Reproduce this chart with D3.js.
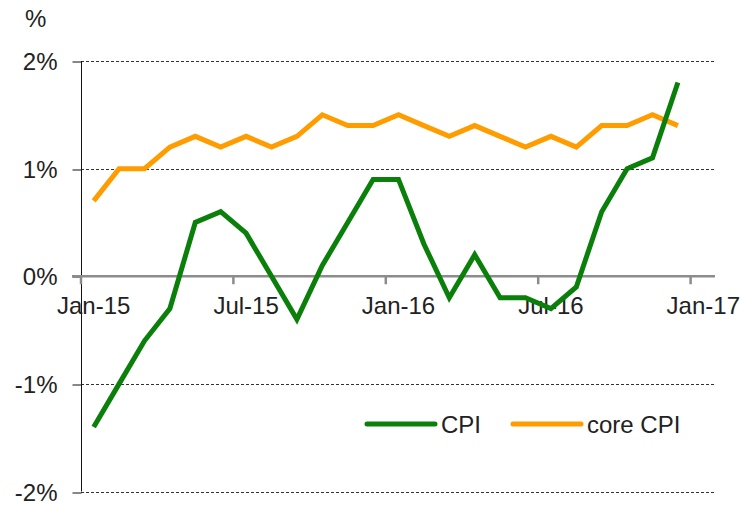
<!DOCTYPE html>
<html>
<head>
<meta charset="utf-8">
<script src="https://cdn.jsdelivr.net/npm/d3@7"></script>
<style>
  body { margin: 0; background: #fff; }
  text { font-family: "Liberation Sans", Arial, sans-serif; fill: #222; }
</style>
</head>
<body>
<svg id="chart"></svg>
<script>
var months = ["Jan-15","Feb-15","Mar-15","Apr-15","May-15","Jun-15","Jul-15","Aug-15","Sep-15","Oct-15","Nov-15","Dec-15",
              "Jan-16","Feb-16","Mar-16","Apr-16","May-16","Jun-16","Jul-16","Aug-16","Sep-16","Oct-16","Nov-16","Dec-16","Jan-17"];
var cpi = [-1.4, -1.0, -0.6, -0.3, 0.5, 0.6, 0.4, 0.0, -0.4, 0.1, 0.5, 0.9,
           0.9, 0.3, -0.2, 0.2, -0.2, -0.2, -0.3, -0.1, 0.6, 1.0, 1.1, 1.8];
var coreCpi = [0.7, 1.0, 1.0, 1.2, 1.3, 1.2, 1.3, 1.2, 1.3, 1.5, 1.4, 1.4,
               1.5, 1.4, 1.3, 1.4, 1.3, 1.2, 1.3, 1.2, 1.4, 1.4, 1.5, 1.4];
var xTickLabels = ["Jan-15","Jul-15","Jan-16","Jul-16","Jan-17"];
var yTicks = [-2, -1, 0, 1, 2];
var seriesNames = ["CPI", "core CPI"];
var seriesColors = ["#0a7f0a", "#ff9c00"];

var width = 743, height = 506;
var margin = {top: 61, right: 29, bottom: 14, left: 81};

var svg = d3.select("#chart")
    .attr("width", width)
    .attr("height", height);

var xScale = d3.scaleBand()
    .domain(months)
    .range([margin.left, margin.left + 25.4 * months.length]);

var yScale = d3.scaleLinear()
    .domain([-2, 2])
    .range([height - margin.bottom - 0.5, margin.top]);

var right = width - margin.right;

// gridlines
svg.append("g")
    .selectAll("line")
    .data(yTicks.filter(function(d) { return d !== 0; }))
    .enter().append("line")
    .attr("x1", margin.left)
    .attr("x2", right)
    .attr("y1", function(d) { return Math.round(yScale(d)) + 0.5; })
    .attr("y2", function(d) { return Math.round(yScale(d)) + 0.5; })
    .attr("stroke", "#333")
    .attr("stroke-width", 1)
    .attr("stroke-dasharray", "3,2");

// y-axis
var yAxis = svg.append("g")
    .attr("transform", "translate(" + (margin.left + 0.5) + ",0)")
    .call(d3.axisLeft(yScale)
        .tickValues(yTicks)
        .tickSize(9)
        .tickPadding(15)
        .tickFormat(function(d) { return d + "%"; }));
yAxis.select(".domain").attr("stroke", "#111").attr("d",
    "M0," + yScale(2) + "V" + yScale(-2));
yAxis.selectAll(".tick line").attr("stroke", "#111")
    .attr("transform", function(d) { return "translate(0," + (Math.round(yScale(d)) + 0.5 - yScale(d)) + ")"; });
yAxis.selectAll(".tick text")
    .attr("font-size", 24)
    .attr("dy", "0.36em")
    .style("font-family", "Liberation Sans, Arial, sans-serif")
    .attr("fill", "#222");

svg.append("text")
    .attr("x", 25)
    .attr("y", 27)
    .attr("font-size", 24)
    .text("%");

// x-axis along zero
var y0 = yScale(0);
svg.append("line")
    .attr("x1", margin.left - 9)
    .attr("x2", right + 1)
    .attr("y1", y0)
    .attr("y2", y0)
    .attr("stroke", "#8c8c8c")
    .attr("stroke-width", 2.5);

var tickMonths = months.filter(function(d, i) { return i % 6 === 0; });
svg.append("g")
    .selectAll("line")
    .data(tickMonths)
    .enter().append("line")
    .attr("x1", function(d) { return xScale(d); })
    .attr("x2", function(d) { return xScale(d); })
    .attr("y1", y0)
    .attr("y2", y0 + 8)
    .attr("stroke", "#8c8c8c")
    .attr("stroke-width", 2.5);

svg.append("g")
    .selectAll("text")
    .data(xTickLabels)
    .enter().append("text")
    .attr("x", function(d) { return xScale(d) + xScale.bandwidth() / 2; })
    .attr("y", y0 + 38)
    .attr("font-size", 24)
    .attr("text-anchor", "middle")
    .text(function(d) { return d; });

// lines
var line = d3.line()
    .x(function(d, i) { return xScale(months[i]) + xScale.bandwidth() / 2; })
    .y(function(d) { return yScale(d); });

[coreCpi, cpi].forEach(function(values, k) {
    svg.append("path")
        .datum(values)
        .attr("fill", "none")
        .attr("stroke", seriesColors[1 - k])
        .attr("stroke-width", 5)
        .attr("stroke-linejoin", "miter")
        .attr("d", line);
});

// legend
var legendX = [367, 513];
var legend = svg.append("g")
    .selectAll("g")
    .data(seriesNames)
    .enter().append("g")
    .attr("transform", function(d, i) { return "translate(" + legendX[i] + ",424)"; });

legend.append("line")
    .attr("x1", 0)
    .attr("x2", 68)
    .attr("stroke", function(d, i) { return seriesColors[i]; })
    .attr("stroke-width", 5)
    .attr("stroke-linecap", "round");

legend.append("text")
    .attr("x", 74)
    .attr("y", 9)
    .attr("font-size", 24)
    .text(function(d) { return d; });
</script>
</body>
</html>
